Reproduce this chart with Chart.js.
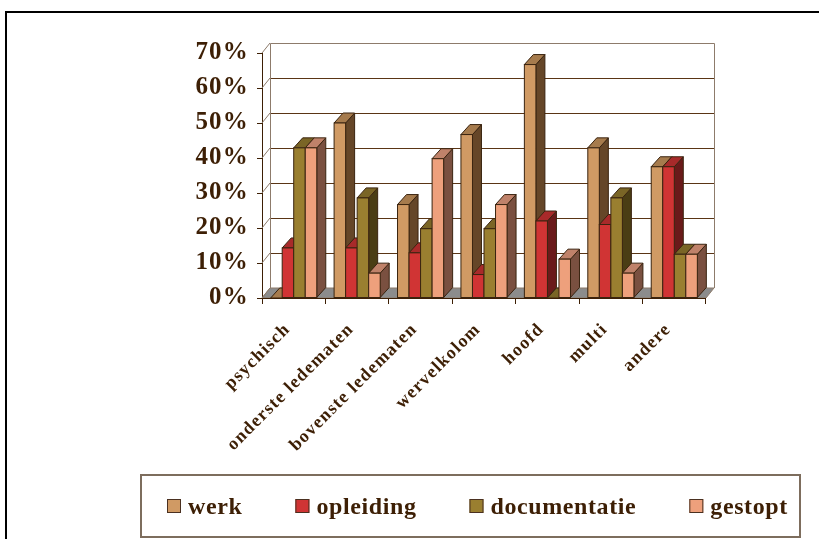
<!DOCTYPE html>
<html>
<head>
<meta charset="utf-8">
<script src="https://cdn.jsdelivr.net/npm/chart.js@4.4.1/dist/chart.umd.min.js"></script>
<style>
  html, body { margin: 0; padding: 0; background: #fff; }
  canvas { display: block; }
</style>
</head>
<body>
<canvas id="c" width="819" height="539"></canvas>
<script>
// Injury location per outcome, share of cases (%)
const categories = ['psychisch', 'onderste ledematen', 'bovenste ledematen', 'wervelkolom', 'hoofd', 'multi', 'andere'];
const seriesNames = ['werk', 'opleiding', 'documentatie', 'gestopt'];
const werk         = [0,    50.0, 26.7, 46.7, 66.7, 42.9, 37.5];
const opleiding    = [14.3, 14.3, 12.9, 6.7,  22.0, 21.0, 37.5];
const documentatie = [42.9, 28.6, 19.8, 19.8, 0,    28.6, 12.5];
const gestopt      = [42.9, 7.1,  39.8, 26.7, 11.1, 7.1,  12.5];
const yTicks = [0, 10, 20, 30, 40, 50, 60, 70];

// face shading per series: front, right side, top
const shades = [
  { front: '#D09A64', side: '#654628', top: '#A67B4D' },
  { front: '#D03434', side: '#6A1A1A', top: '#A82A2A' },
  { front: '#9A7F30', side: '#4A3D14', top: '#7A6526' },
  { front: '#EEA07C', side: '#7A5040', top: '#C0826A' }
];

const INK = '#3d1f05';
const OUTLINE = '#3a2410';
const WALL = '#8d7b6b';
const GRID = '#5a3515';
const SERIF = '"Liberation Serif", "Times New Roman", serif';
const BAR_DX = 9, BAR_DY = -10;    // column depth
const WALL_DX = 8, WALL_DY = -10;  // floor / back wall depth

const seriesValues = [werk, opleiding, documentatie, gestopt];

function poly(ctx, pts, fill) {
  ctx.beginPath();
  ctx.moveTo(pts[0][0], pts[0][1]);
  for (let k = 1; k < pts.length; k++) ctx.lineTo(pts[k][0], pts[k][1]);
  ctx.closePath();
  if (fill) { ctx.fillStyle = fill; ctx.fill(); }
  ctx.stroke();
}

const columns3d = {
  id: 'columns3d',
  beforeDraw(chart) {
    const ctx = chart.ctx;
    ctx.save();
    ctx.fillStyle = '#fff';
    ctx.fillRect(0, 0, chart.width, chart.height);
    ctx.strokeStyle = '#000';
    ctx.lineWidth = 2;
    ctx.strokeRect(6, 12, chart.width + 20, chart.height + 20);
    ctx.restore();
    // slightly open tracking for the axis labels
    ctx.letterSpacing = '1.2px';
  },
  beforeDatasetsDraw(chart) {
    const { ctx, chartArea: a, scales: { y } } = chart;
    ctx.letterSpacing = '0px';
    const base = y.getPixelForValue(0);
    const topV = yTicks[yTicks.length - 1];
    ctx.save();
    ctx.lineWidth = 1;

    // floor
    ctx.strokeStyle = WALL;
    poly(ctx, [[a.left, base], [a.right, base], [a.right + WALL_DX, base + WALL_DY], [a.left + WALL_DX, base + WALL_DY]], '#8c8c8c');

    // back wall gridlines
    ctx.strokeStyle = GRID;
    yTicks.forEach(v => {
      if (v === 0 || v === topV) return;
      const py = Math.round(y.getPixelForValue(v) + WALL_DY) + 0.5;
      ctx.beginPath();
      ctx.moveTo(a.left + WALL_DX, py);
      ctx.lineTo(a.right + WALL_DX, py);
      ctx.stroke();
    });

    // wall frame and left wall diagonals
    ctx.strokeStyle = WALL;
    const tY = Math.round(y.getPixelForValue(topV) + WALL_DY) + 0.5;
    const bY = base + WALL_DY;
    ctx.beginPath();
    ctx.moveTo(a.left + WALL_DX + 0.5, bY);
    ctx.lineTo(a.left + WALL_DX + 0.5, tY);
    ctx.lineTo(a.right + WALL_DX + 0.5, tY);
    ctx.lineTo(a.right + WALL_DX + 0.5, bY);
    ctx.stroke();
    yTicks.forEach(v => {
      const py = y.getPixelForValue(v);
      ctx.beginPath();
      ctx.moveTo(a.left, py);
      ctx.lineTo(a.left + WALL_DX, py + WALL_DY);
      ctx.stroke();
    });

    // columns, left to right so each front face hides its neighbour's side
    ctx.strokeStyle = OUTLINE;
    categories.forEach((_, j) => {
      chart.data.datasets.forEach((ds, i) => {
        const el = chart.getDatasetMeta(i).data[j];
        const sh = shades[i];
        const l = el.x - el.width / 2, r = el.x + el.width / 2;
        const t = el.y, b = el.base;
        if (b - t > 0.5) {
          poly(ctx, [[r, t], [r + BAR_DX, t + BAR_DY], [r + BAR_DX, b + BAR_DY], [r, b]], sh.side);
        }
        poly(ctx, [[l, t], [l + BAR_DX, t + BAR_DY], [r + BAR_DX, t + BAR_DY], [r, t]], sh.top);
        if (b - t > 0.5) {
          ctx.fillStyle = sh.front;
          ctx.fillRect(l, t, r - l, b - t);
          ctx.strokeRect(l, t, r - l, b - t);
        }
      });
    });

    // front edge of the floor
    ctx.strokeStyle = INK;
    ctx.beginPath();
    ctx.moveTo(a.left, Math.round(base) + 0.5);
    ctx.lineTo(a.right, Math.round(base) + 0.5);
    ctx.stroke();
    ctx.restore();
    return false;
  },
  afterDraw(chart) {
    const ctx = chart.ctx;
    ctx.save();
    // legend box
    ctx.strokeStyle = '#7d6d5d';
    ctx.lineWidth = 2;
    ctx.strokeRect(141, 475, 659, 62);
    ctx.font = 'bold 24px ' + SERIF;
    ctx.letterSpacing = '0.6px';
    ctx.textBaseline = 'alphabetic';
    ctx.textAlign = 'left';
    let px = 167;
    chart.data.datasets.forEach((ds, i) => {
      ctx.fillStyle = shades[i].front;
      ctx.fillRect(px, 499, 14, 14);
      ctx.lineWidth = 1;
      ctx.strokeStyle = '#4a3020';
      ctx.strokeRect(px + 0.5, 499.5, 13, 13);
      ctx.fillStyle = INK;
      ctx.fillText(ds.label, px + 21, 514);
      px += 21 + ctx.measureText(ds.label).width + 53;
    });
    ctx.restore();
    ctx.letterSpacing = '0px';
  }
};

new Chart(document.getElementById('c'), {
  type: 'bar',
  data: {
    labels: categories,
    datasets: seriesNames.map((name, i) => ({
      label: name,
      data: seriesValues[i],
      backgroundColor: shades[i].front,
      categoryPercentage: 0.727,
      barPercentage: 1.0
    }))
  },
  options: {
    responsive: false,
    animation: false,
    layout: { padding: { top: 53, right: 113, left: 0, bottom: 0 } },
    plugins: { legend: { display: false }, tooltip: { enabled: false } },
    scales: {
      x: {
        offset: true,
        grid: { display: true, drawOnChartArea: false, drawTicks: true, tickLength: 6, color: INK, offset: true },
        border: { display: false },
        ticks: {
          minRotation: 45, maxRotation: 45, autoSkip: false, padding: 15, labelOffset: -6,
          color: INK,
          font: { family: SERIF, size: 18, weight: 'bold' }
        },
        afterFit(scale) { scale.height = 241; }
      },
      y: {
        min: 0, max: 70,
        ticks: {
          stepSize: 10, padding: 8, color: INK,
          font: { family: SERIF, size: 25, weight: 'bold' },
          callback: v => v + '%'
        },
        grid: { display: true, drawOnChartArea: false, drawTicks: true, tickLength: 5, color: INK },
        border: { display: true, color: INK, width: 1 },
        afterFit(scale) { scale.width = 262; }
      }
    }
  },
  plugins: [columns3d]
});
</script>
</body>
</html>
